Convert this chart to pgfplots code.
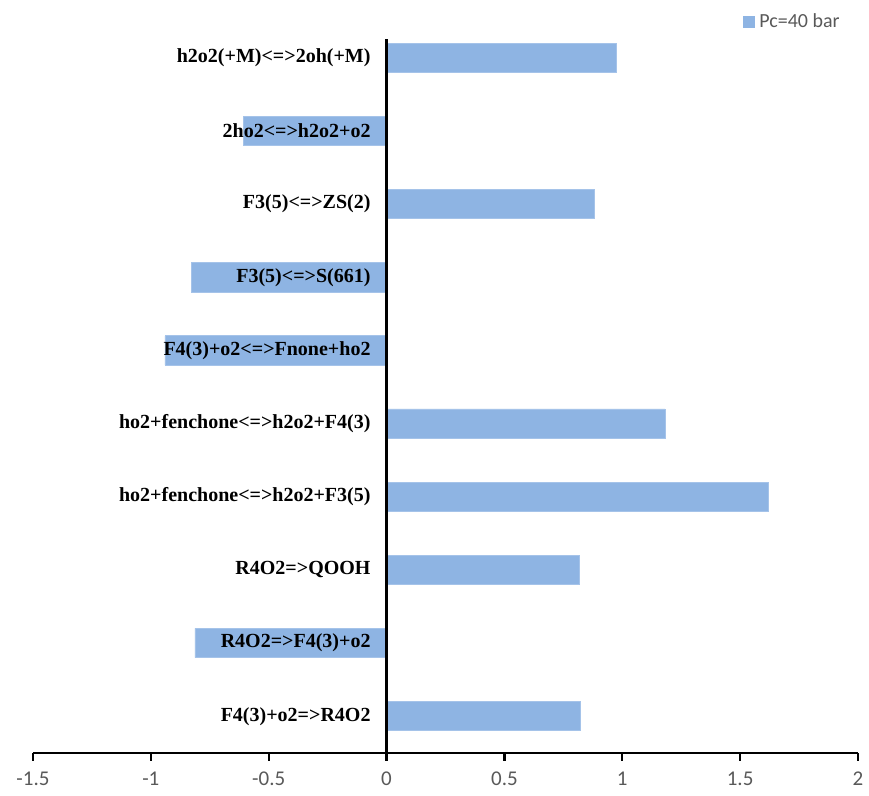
\documentclass[border=0pt]{standalone}
\usepackage{fontspec}
\setmainfont{Liberation Serif}
\newfontfamily\carlito{Carlito}
\usepackage{pgfplots}
\pgfplotsset{compat=1.18}
\usepackage{pgfplotstable}
\definecolor{barblue}{RGB}{142,180,227}
\definecolor{leggray}{RGB}{89,89,89}
\pgfplotstableread{
y x
10 0.976
9 -0.608
8 0.881
7 -0.827
6 -0.940
5 1.181
4 1.622
3 0.818
2 -0.813
1 0.822
}\datatable
\begin{document}
\begin{tikzpicture}[x=1pt,y=1pt]
\path[use as bounding box] (0,0) rectangle (434.5,398);
\begin{axis}[
  at={(14,59)}, anchor=south west,
  scale only axis,
  width=412.5pt, height=357pt,
  xbar, bar width=0.40,
  xmin=-1.5, xmax=2,
  ymin=0.5, ymax=10.26,
  axis on top,
  axis x line=bottom, axis y line=center,
  axis line style={-, line width=1.1pt, black},
  xtick={-1.5,-1,-0.5,0,0.5,1,1.5,2},
  xticklabels={-1.5,-1,-0.5,0,0.5,1,1.5,2},
  x tick label style={font=\carlito\fontsize{10.5}{12}\selectfont, text=leggray, yshift=-2pt},
  tick align=outside,
  x tick style={black, line width=1.1pt},
  major tick length=4pt,
  ytick={1,...,10},
  yticklabels={F4(3)+o2=>R4O2, R4O2=>F4(3)+o2, R4O2=>QOOH, ho2+fenchone<=>h2o2+F3(5), ho2+fenchone<=>h2o2+F4(3), F4(3)+o2<=>Fnone+ho2, F3(5)<=>S(661), F3(5)<=>ZS(2), 2ho2<=>h2o2+o2, h2o2(+M)<=>2oh(+M)},
  y tick style={draw=none},
  y tick label style={font=\bfseries\fontsize{10}{12}\selectfont, xshift=-0.5pt},
  legend style={at={(1,1)}, anchor=south east, xshift=-4pt, yshift=0pt, draw=none, fill=none, font=\carlito\fontsize{10}{12}\selectfont, text=leggray, legend cell align=left},
  legend image code/.code={\draw[fill=barblue,draw=none] (0cm,-3pt) rectangle (6pt,3pt);},
  clip=false,
]
\addplot[fill=barblue, draw=barblue!80!white] table[x=x,y=y] {\datatable};
\addlegendentry{Pc=40 bar}
\end{axis}
\end{tikzpicture}
\end{document}
